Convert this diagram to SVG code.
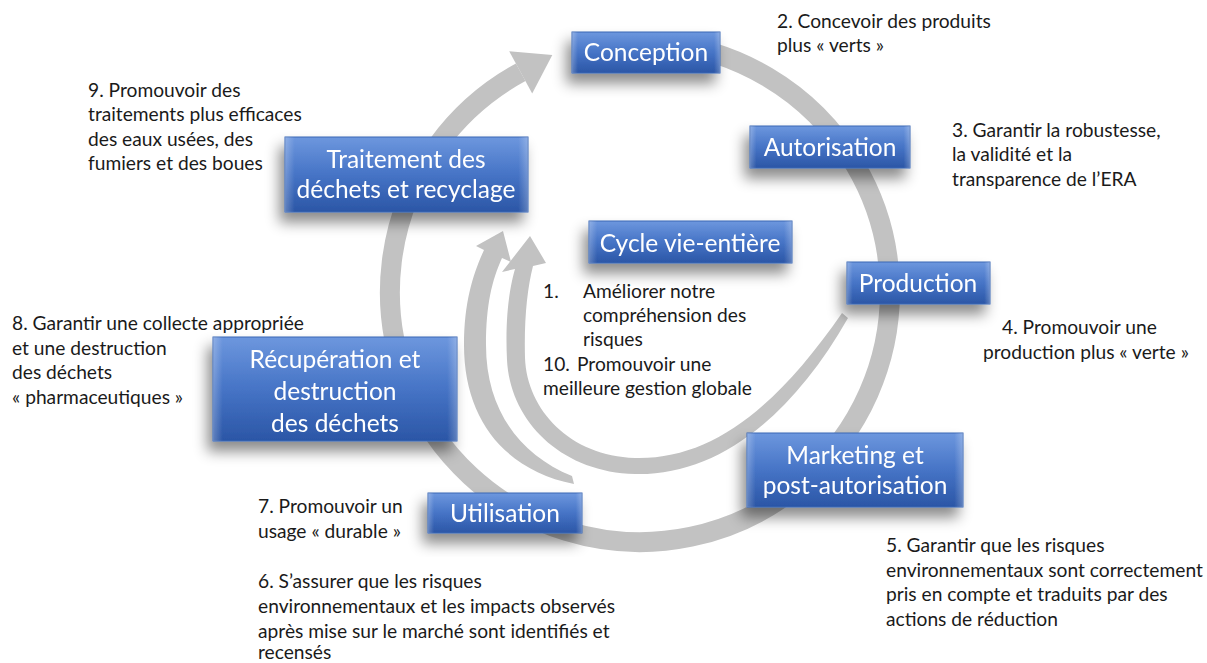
<svg xmlns="http://www.w3.org/2000/svg" width="1207" height="663" viewBox="0 0 1207 663">
<defs>
<linearGradient id="bg" x1="0" y1="0" x2="0" y2="1">
<stop offset="0" stop-color="#6d97de"/>
<stop offset="0.5" stop-color="#4674c6"/>
<stop offset="1" stop-color="#2b56a6"/>
</linearGradient>
<linearGradient id="edge" x1="0" y1="0" x2="1" y2="0">
<stop offset="0" stop-color="#ffffff" stop-opacity="0.25"/>
<stop offset="0.04" stop-color="#ffffff" stop-opacity="0"/>
<stop offset="0.96" stop-color="#ffffff" stop-opacity="0"/>
<stop offset="1" stop-color="#ffffff" stop-opacity="0.25"/>
</linearGradient>
<filter id="sh" x="-30%" y="-40%" width="160%" height="200%">
<feDropShadow dx="-5" dy="10" stdDeviation="7" flood-color="#000" flood-opacity="0.45"/>
</filter>
</defs>
<style>
.box{fill:url(#bg);stroke:#3a66b4;stroke-width:1}
.hl{fill:url(#edge)}
.bt{font-family:Lato,"Liberation Sans",sans-serif;font-size:24.5px;fill:#ffffff;text-anchor:middle}
.t{font-family:Lato,"Liberation Sans",sans-serif;font-size:19.2px;fill:#1a1a1a}
.arc{fill:none;stroke:#c2c2c2;stroke-width:20}
.ar{fill:#c2c2c2}
</style>
<rect width="1207" height="663" fill="#ffffff"/>
<g id="connectors">
<path class="arc" d="M 661.8 43 A 250 250 0 1 1 520.7 72.3"/>
<polygon class="ar" points="509.2,51.2 552.3,55.1 532.2,93.4"/>
<path class="ar" d="M 574 484 C 505 470 464 420 464 345 C 464 300 474 272 484 250 L 476 246 L 503 231 L 511 262 L 502 258 C 492 280 486 305 486 345 C 486 410 520 455 572 476 Z"/>
<path class="ar" d="M 848 318 C 790 420 715 476 635 474 C 560 472 510 420 507 360 C 505 320 509 290 515 269 L 502 272 L 530 236 L 546 263 L 533 266 C 527 290 524 320 525 358 C 527 410 570 456 635 458 C 710 460 775 410 842 313 Z"/>
</g>
<g id="conception" filter="url(#sh)">
<rect class="box" x="572" y="32" width="148" height="41"/>
<rect class="hl" x="572" y="32" width="148" height="41"/>
<text class="bt" x="646" y="61">Conception</text>
</g>
<g id="autorisation" filter="url(#sh)">
<rect class="box" x="750" y="126" width="160" height="42"/>
<rect class="hl" x="750" y="126" width="160" height="42"/>
<text class="bt" x="830" y="156">Autorisation</text>
</g>
<g id="production" filter="url(#sh)">
<rect class="box" x="847" y="262" width="143" height="42"/>
<rect class="hl" x="847" y="262" width="143" height="42"/>
<text class="bt" x="918" y="292">Production</text>
</g>
<g id="cycle" filter="url(#sh)">
<rect class="box" x="589" y="221" width="203" height="42"/>
<rect class="hl" x="589" y="221" width="203" height="42"/>
<text class="bt" x="690" y="252">Cycle vie-entière</text>
</g>
<g id="traitement" filter="url(#sh)">
<rect class="box" x="285" y="137" width="243" height="75"/>
<rect class="hl" x="285" y="137" width="243" height="75"/>
<text class="bt" x="406" y="168">Traitement des</text>
<text class="bt" x="406" y="198">déchets et recyclage</text>
</g>
<g id="recuperation" filter="url(#sh)">
<rect class="box" x="213" y="337" width="244" height="104"/>
<rect class="hl" x="213" y="337" width="244" height="104"/>
<text class="bt" x="335" y="368">Récupération et</text>
<text class="bt" x="335" y="400">destruction</text>
<text class="bt" x="335" y="432">des déchets</text>
</g>
<g id="marketing" filter="url(#sh)">
<rect class="box" x="747" y="433" width="216" height="74"/>
<rect class="hl" x="747" y="433" width="216" height="74"/>
<text class="bt" x="855" y="464">Marketing et</text>
<text class="bt" x="855" y="494">post-autorisation</text>
</g>
<g id="utilisation" filter="url(#sh)">
<rect class="box" x="428" y="493" width="154" height="40"/>
<rect class="hl" x="428" y="493" width="154" height="40"/>
<text class="bt" x="505" y="522">Utilisation</text>
</g>
<g id="labels">
<text class="t" x="777" y="28">2. Concevoir des produits</text>
<text class="t" x="777" y="52">plus « verts »</text>
<text class="t" x="952" y="137">3. Garantir la robustesse,</text>
<text class="t" x="952" y="161">la validité et la</text>
<text class="t" x="952" y="186">transparence de l’ERA</text>
<text class="t" x="1002" y="334">4. Promouvoir une</text>
<text class="t" x="983" y="359">production plus « verte »</text>
<text class="t" x="886" y="552">5. Garantir que les risques</text>
<text class="t" x="886" y="577">environnementaux sont correctement</text>
<text class="t" x="886" y="601">pris en compte et traduits par des</text>
<text class="t" x="886" y="626">actions de réduction</text>
<text class="t" x="258" y="588">6. S’assurer que les risques</text>
<text class="t" x="258" y="613">environnementaux et les impacts observés</text>
<text class="t" x="258" y="638">après mise sur le marché sont identifiés et</text>
<text class="t" x="258" y="659">recensés</text>
<text class="t" x="258" y="513">7. Promouvoir un</text>
<text class="t" x="258" y="538">usage « durable »</text>
<text class="t" x="12" y="330">8. Garantir une collecte appropriée</text>
<text class="t" x="12" y="355">et une destruction</text>
<text class="t" x="12" y="379">des déchets</text>
<text class="t" x="12" y="404">« pharmaceutiques »</text>
<text class="t" x="88" y="97">9. Promouvoir des</text>
<text class="t" x="88" y="121">traitements plus efficaces</text>
<text class="t" x="88" y="146">des eaux usées, des</text>
<text class="t" x="88" y="170">fumiers et des boues</text>
<text class="t" x="543" y="298">1.</text>
<text class="t" x="583" y="298">Améliorer notre</text>
<text class="t" x="583" y="322">compréhension des</text>
<text class="t" x="583" y="346">risques</text>
<text class="t" x="543" y="371">10.</text>
<text class="t" x="577" y="371">Promouvoir une</text>
<text class="t" x="543" y="395">meilleure gestion globale</text>
</g>
</svg>
